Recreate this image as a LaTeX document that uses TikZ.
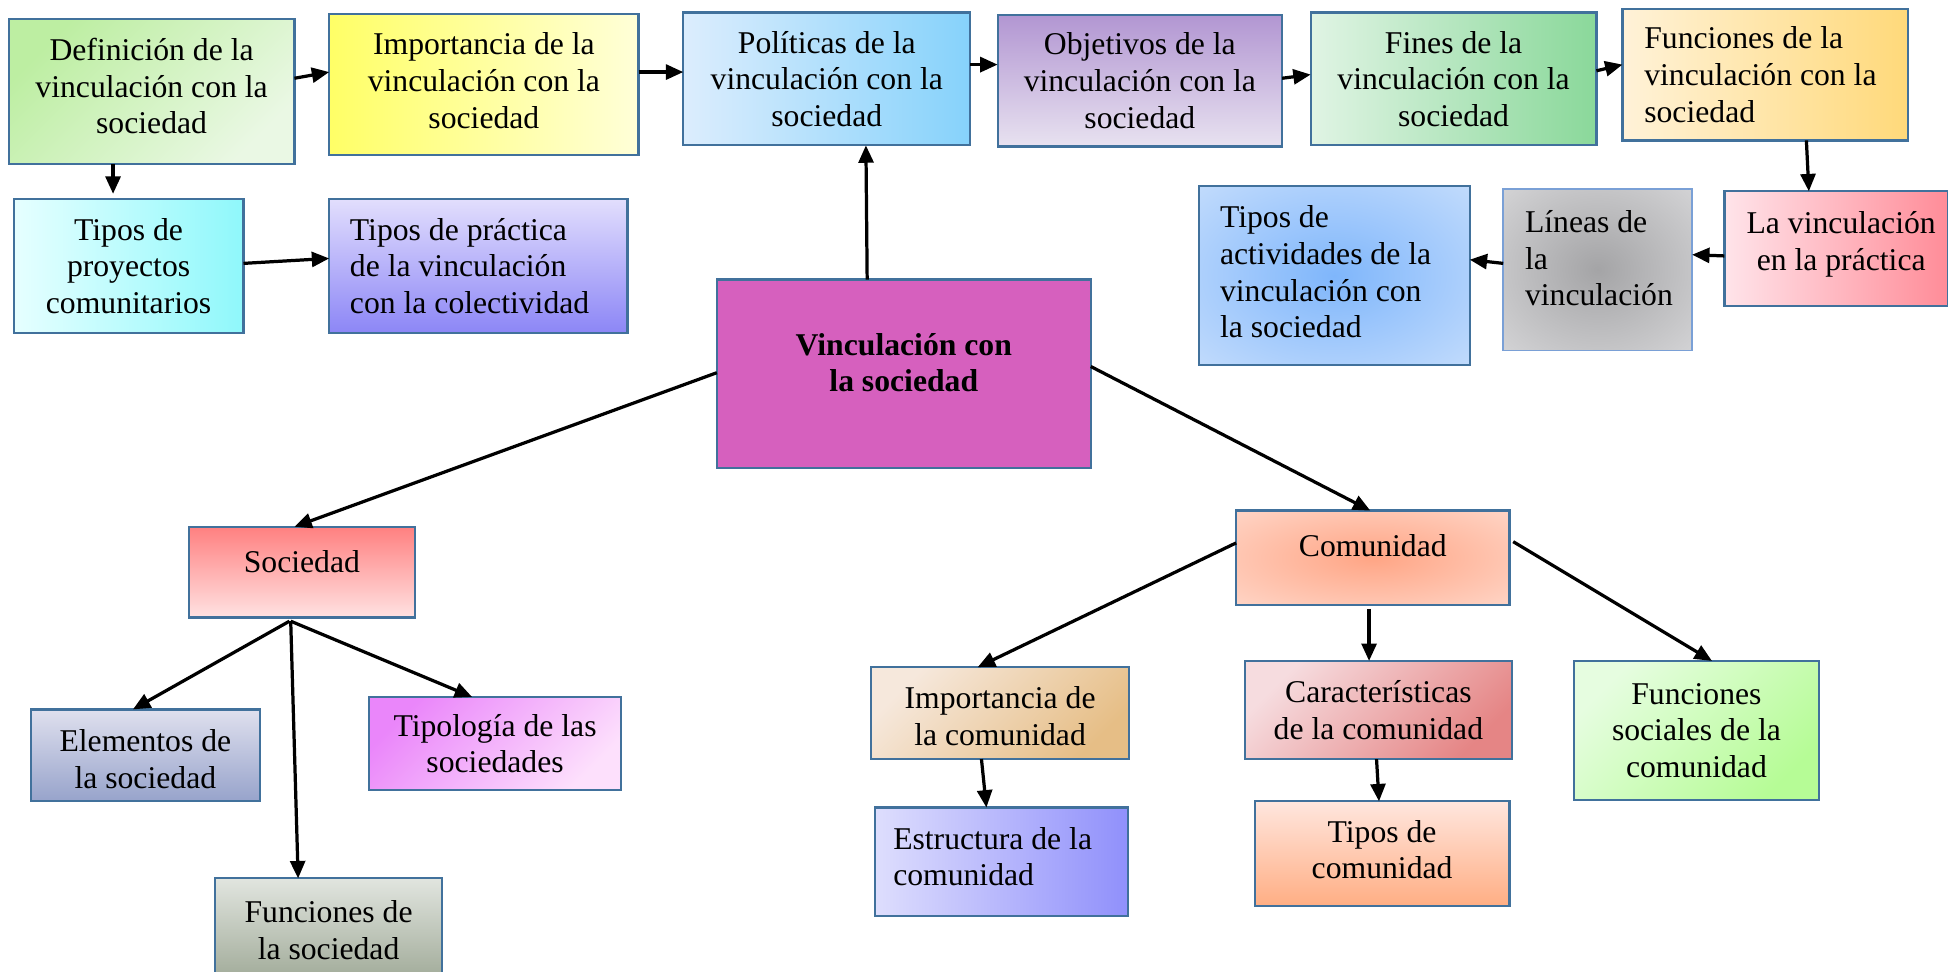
\documentclass[tikz,border=0pt]{standalone}
\usepackage{fontspec}
\setmainfont{Liberation Serif}
\usetikzlibrary{arrows.meta,calc}
\definecolor{bord}{HTML}{41719C}
\definecolor{bordl}{HTML}{7AA0D6}
\definecolor{cA1}{HTML}{BDEEA2}\definecolor{cA2}{HTML}{EAF8E4}
\definecolor{cB1}{HTML}{FFFF66}\definecolor{cB2}{HTML}{FFFFD8}
\definecolor{cC1}{HTML}{DCEDFD}\definecolor{cC2}{HTML}{86D2FB}
\definecolor{cD1}{HTML}{B296D2}\definecolor{cD2}{HTML}{E8E2F0}
\definecolor{cE1}{HTML}{E0F4E4}\definecolor{cE2}{HTML}{8AD89A}
\definecolor{cF1}{HTML}{FFF2D8}\definecolor{cF2}{HTML}{FFD97A}
\definecolor{cG1}{HTML}{E6FFFF}\definecolor{cG2}{HTML}{8FF8FB}
\definecolor{cH1}{HTML}{E2DEFD}\definecolor{cH2}{HTML}{8C86F6}
\definecolor{cI1}{HTML}{FFE4EA}\definecolor{cI2}{HTML}{FF8C98}
\definecolor{cJ1}{HTML}{A4A4A6}\definecolor{cJ2}{HTML}{E6E6E8}
\definecolor{cK1}{HTML}{7FB6FB}\definecolor{cK2}{HTML}{DCEAFD}
\definecolor{cM}{HTML}{D660BE}
\definecolor{cN1}{HTML}{FF8080}\definecolor{cN2}{HTML}{FFE2E2}
\definecolor{cO1}{HTML}{DFE0EE}\definecolor{cO2}{HTML}{97A3CB}
\definecolor{cP1}{HTML}{EA86FA}\definecolor{cP2}{HTML}{FDE0FC}
\definecolor{cQ1}{HTML}{E1E5DF}\definecolor{cQ2}{HTML}{A0AA98}
\definecolor{cR1}{HTML}{FFA585}\definecolor{cR2}{HTML}{FFE8E0}
\definecolor{cS1}{HTML}{F6E8DC}\definecolor{cS2}{HTML}{E6BE86}
\definecolor{cT1}{HTML}{F6DCDF}\definecolor{cT2}{HTML}{E58585}
\definecolor{cU1}{HTML}{E6FDE0}\definecolor{cU2}{HTML}{B6FC96}
\definecolor{cV1}{HTML}{DEDEFD}\definecolor{cV2}{HTML}{9090FB}
\definecolor{cW1}{HTML}{FFE6DE}\definecolor{cW2}{HTML}{FFAE84}
\colorlet{rin}{white}\colorlet{rout}{white}
\pgfdeclareradialshading[rin,rout]{wrad}{\pgfpoint{0bp}{0bp}}{color(0bp)=(rin); color(14bp)=(rin!72!rout); color(35bp)=(rin!30!rout); color(52bp)=(rout); color(75bp)=(rout)}
\begin{document}
\begin{tikzpicture}[x=1pt,y=-1pt,
  box/.style={draw=bord, line width=1.8pt, rectangle, inner sep=0pt, outer sep=0pt,
    font=\fontsize{25.5pt}{29.5pt}\selectfont, align=center},
  txt/.style={inner sep=0pt, outer sep=0pt, font=\fontsize{25.5pt}{29.5pt}\selectfont},
  arr/.style={line width=2.6pt, -{Triangle[length=14pt,width=12pt]}},
  diag/.style={shading angle=45},
  rad/.style 2 args={/utils/exec={\colorlet{rin}{#1}\colorlet{rout}{#2}}, shading=wrad}
]
\useasboundingbox (0,0) rectangle (1568,782);

% top row
\node[box, minimum width=230pt, minimum height=117pt, top color=cA1, bottom color=cA2, diag] (defin) at (122,73.5) {};
\node[txt, align=center] (defin-t) at ([yshift=4pt]defin.center) {Definición de la\\vinculación con la\\sociedad};
\node[box, minimum width=249pt, minimum height=114pt, left color=cB1, right color=cB2] (impvin) at (389.5,68) {};
\node[txt, align=center] (impvin-t) at ([yshift=3pt]impvin.center) {Importancia de la\\vinculación con la\\sociedad};
\node[box, minimum width=231pt, minimum height=107pt, left color=cC1, right color=cC2] (polit) at (665.5,63.5)
  {Políticas de la\\vinculación con la\\sociedad};
\node[box, minimum width=229pt, minimum height=106pt, top color=cD1, bottom color=cD2] (objet) at (917.5,65)
  {Objetivos de la\\vinculación con la\\sociedad};
\node[box, minimum width=230pt, minimum height=107pt, left color=cE1, right color=cE2] (fines) at (1170,63.5)
  {Fines de la\\vinculación con la\\sociedad};
\node[box, minimum width=230pt, minimum height=106pt, left color=cF1, right color=cF2] (funvin) at (1421,60) {};
\node[txt, align=left] (funvin-t) at ([xshift=-4pt]funvin.center) {Funciones de la\\vinculación con la\\sociedad};

% second row left
\node[box, minimum width=185pt, minimum height=108pt, left color=cG1, right color=cG2] (tproy) at (103.5,214)
  {Tipos de\\proyectos\\comunitarios};
\node[box, minimum width=240pt, minimum height=108pt, top color=cH1, bottom color=cH2] (tprac) at (385,214) {};
\node[txt, align=left] (tprac-t) at ([xshift=-7pt]tprac.center) {Tipos de práctica\\de la vinculación\\con la colectividad};

% second row right
\node[box, minimum width=180pt, minimum height=92pt, left color=cI1, right color=cI2] (lapract) at (1478,200) {};
\node[txt, align=center] (lapract-t) at (1482,196.5) {La vinculación\\en la práctica};
\node[box, draw=bordl, line width=1.3pt, minimum width=152pt, minimum height=130pt, rad={cJ1}{cJ2}] (lineas) at (1286,217) {};
\node[txt, align=left] (lineas-t) at (1287,208) {Líneas de\\la\\vinculación};
\node[box, minimum width=218pt, minimum height=144pt, rad={cK1}{cK2}] (tact) at (1074,222) {};
\node[txt, align=left] (tact-t) at ([xshift=-7pt,yshift=3pt]tact.center) {Tipos de\\actividades de la\\vinculación con\\la sociedad};

% center
\node[box, minimum width=301pt, minimum height=152pt, fill=cM] (main) at (727.5,301) {};
\node[txt, align=center, font=\fontsize{25.5pt}{29.5pt}\selectfont\bfseries] (main-t) at (727.5,292) {Vinculación con\\la sociedad};

% sociedad branch
\node[box, minimum width=182pt, minimum height=73pt, top color=cN1, bottom color=cN2] (soc) at (243,460.5) {};
\node[txt] (soc-t) at (243,452) {Sociedad};
\node[box, minimum width=184pt, minimum height=74pt, top color=cO1, bottom color=cO2] (elem) at (117,608) {};
\node[txt, align=center] (elem-t) at ([yshift=-3pt]elem.center) {Elementos de\\la sociedad};
\node[box, minimum width=203pt, minimum height=75pt, top color=cP1, bottom color=cP2, diag] (tipol) at (398.5,598.5)
  {Tipología de las\\sociedades};
\node[box, minimum width=183pt, minimum height=83pt, top color=cQ1, bottom color=cQ2] (funsoc) at (264.5,748.5)
  {Funciones de\\la sociedad};

% comunidad branch
\node[box, minimum width=220pt, minimum height=76pt, rad={cR1}{cR2}] (comun) at (1105,449) {};
\node[txt] (comun-t) at (1105,439) {Comunidad};
\node[box, minimum width=208pt, minimum height=74pt, top color=cS1, bottom color=cS2, diag] (impcom) at (805,574) {};
\node[txt, align=center] (impcom-t) at ([yshift=-2.5pt]impcom.center) {Importancia de\\la comunidad};
\node[box, minimum width=215pt, minimum height=79pt, top color=cT1, bottom color=cT2, diag] (carac) at (1109.5,571.5)
  {Características\\de la comunidad};
\node[box, minimum width=197pt, minimum height=112pt, top color=cU1, bottom color=cU2, diag] (funsocial) at (1365.5,588)
  {Funciones\\sociales de la\\comunidad};
\node[box, minimum width=204pt, minimum height=87pt, left color=cV1, right color=cV2] (estruc) at (806,693.5) {};
\node[txt, align=left] (estruc-t) at ([xshift=-7pt,yshift=4pt]estruc.center) {Estructura de la\\comunidad};
\node[box, minimum width=205pt, minimum height=84pt, top color=cW1, bottom color=cW2] (tcom) at (1112.5,687) {};
\node[txt, align=center] (tcom-t) at ([yshift=3pt]tcom.center) {Tipos de\\comunidad};

% connectors
\draw[arr] (defin.east |- 0,63) -- (impvin.west |- 0,58);
\draw[arr] (impvin.east |- 0,58) -- (polit.west |- 0,58);
\draw[arr] (polit.east |- 0,52) -- (objet.west |- 0,52);
\draw[arr] (objet.east |- 0,63) -- (fines.west |- 0,60);
\draw[arr] (fines.east |- 0,57) -- (funvin.west |- 0,52);
\draw[arr] (funvin.south -| 1454,0) -- (lapract.north -| 1456,0);
\draw[arr] (lapract.west |- 0,206) -- (lineas.east |- 0,205);
\draw[arr] (lineas.west |- 0,212) -- (tact.east |- 0,209);
\draw[arr] (defin.south -| 91,0) -- ([yshift=4pt]tproy.north -| 91,0);
\draw[arr] (tproy.east |- 0,212) -- (tprac.west |- 0,208);
\draw[arr] (main.north -| 698,0) -- (polit.south -| 697,0);
\draw[arr] (main.west |- 0,300) -- (soc.north -| 237,0);
\draw[arr] (main.east |- 0,295) -- (comun.north -| 1103,0);
\draw[arr] ([yshift=-3pt]soc.south -| 233,0) -- (elem.north -| 107,0);
\draw[arr] ([yshift=-3pt]soc.south -| 234,0) -- (funsoc.north -| 240,0);
\draw[arr] ([yshift=-3pt]soc.south -| 234,0) -- (tipol.north -| 380,0);
\draw[arr] (comun.west |- 0,437) -- (impcom.north -| 787,0);
\draw[arr] ([yshift=-3pt]comun.south -| 1102,0) -- (carac.north -| 1102,0);
\draw[arr] ([xshift=3pt]comun.east |- 0,436) -- (funsocial.north -| 1378,0);
\draw[arr] (impcom.south -| 790,0) -- (estruc.north -| 794,0);
\draw[arr] (carac.south -| 1108,0) -- (tcom.north -| 1110,0);
\end{tikzpicture}
\end{document}
